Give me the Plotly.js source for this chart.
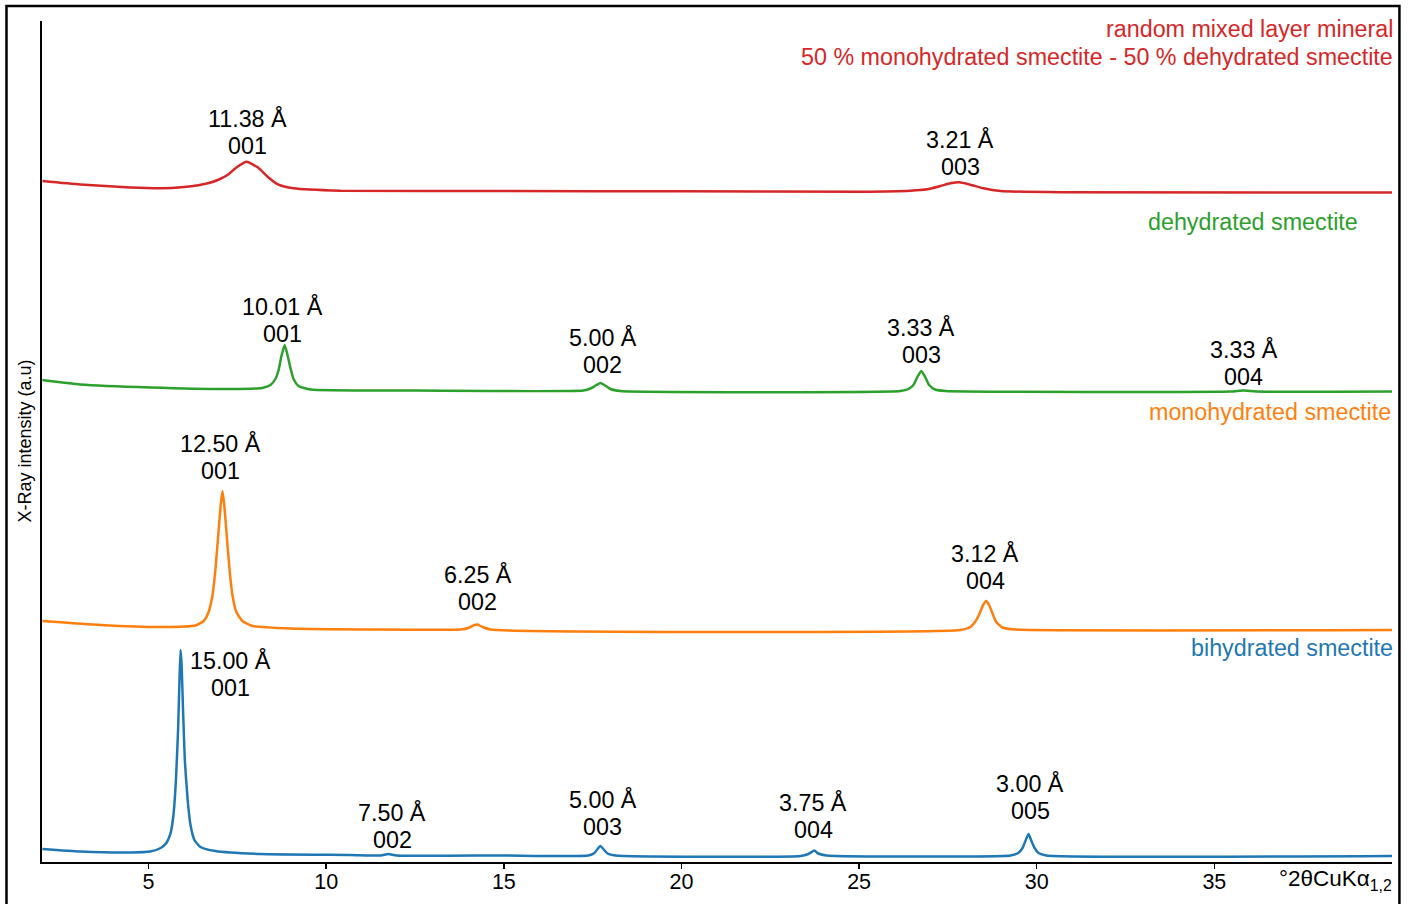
<!DOCTYPE html>
<html>
<head>
<meta charset="utf-8">
<script src="https://cdn.plot.ly/plotly-3.0.1.min.js"></script>
<style>html,body{margin:0;padding:0;background:#fff;}#chart{width:1408px;height:904px;}</style>
</head>
<body>
<div id="chart"></div>
<script>
// ---- data (2θ in degrees, intensity in arbitrary units) ----
const bihydX = [2.01,3.08,4.49,5.05,5.34,5.50,5.62,5.70,5.77,5.83,5.87,5.90,5.93,5.97,6.02,6.10,6.18,6.29,6.46,6.88,8.15,10.68,11.53,11.75,11.98,14.9,17.38,17.55,17.66,17.72,17.80,17.92,18.14,23.35,23.57,23.71,23.74,23.85,24.08,29.26,29.48,29.60,29.68,29.77,29.85,29.94,30.05,30.27,40.0];
const bihydY = [13,10.5,9.5,10.5,14,19,29,47,82,132,182,212,197,152,102,62,37,22,15,11,8,7,6.5,8,6.5,6.5,6.5,9,14,16,13,8.5,6.5,6,8,11,11.5,8.5,6.5,6.5,9,14,21,28,21,14,9,6.5,6];

const monohydX = [2.01,3.65,5.34,6.32,6.55,6.69,6.80,6.88,6.95,7.03,7.08,7.13,7.21,7.28,7.36,7.47,7.64,7.92,9.00,13.78,14.00,14.17,14.26,14.40,14.62,27.85,28.13,28.30,28.41,28.49,28.58,28.66,28.75,28.86,29.03,29.40,40.0];
const monohydY = [241,237,235,236.5,241,250,267,292,322,357,371,357,322,292,267,250,241,236,233.5,232.5,234,237,237.5,235,232.5,232,235,242,250,257,261,257,249,240,234.5,232.5,232];

const dehydX = [2.01,3.08,5.05,7.30,8.20,8.43,8.57,8.66,8.74,8.83,8.91,9.00,9.08,9.22,9.56,12.09,17.24,17.44,17.61,17.72,17.83,18.00,18.28,26.16,26.39,26.53,26.64,26.75,26.86,26.97,27.14,27.43,35.45,35.82,36.18,40.0];
const dehydY = [482,477.5,474.5,473,474,477,483,492,506,517,507,493,483,476,472.5,471.5,471.5,473.5,477,479,477,473,471,471,473,477,485,491,485,477,472.5,471,470.5,471.5,470.5,470.5];

const mixedX = [2.01,3.08,4.49,5.34,6.0,6.40,6.70,6.98,7.22,7.50,7.76,8.07,8.35,8.64,9.08,10.40,15.0,20.0,25.03,26.44,26.92,27.29,27.57,27.82,28.13,28.50,28.98,30.67,40.0];
const mixedY = [681,677.5,674.5,673.7,675,676.8,679,682.5,687,695.3,700.3,694.7,685.3,677.7,673.7,671.3,671,670.7,670.3,671.3,672.7,676,678.7,679.7,677.3,673.7,671,669.7,669.5];

const mixedName   = ['random mixed layer mineral','50 % monohydrated smectite - 50 % dehydrated smectite'];
const dehydName   = 'dehydrated smectite';
const monohydName = 'monohydrated smectite';
const bihydName   = 'bihydrated smectite';

const mixedD  = ['11.38 Å','3.21 Å'],  mixedHkl  = ['001','003'];
const dehydD  = ['10.01 Å','5.00 Å','3.33 Å','3.33 Å'], dehydHkl = ['001','002','003','004'];
const monohydD= ['12.50 Å','6.25 Å','3.12 Å'], monohydHkl = ['001','002','004'];
const bihydD  = ['15.00 Å','7.50 Å','5.00 Å','3.75 Å','3.00 Å'], bihydHkl = ['001','002','003','004','005'];

const xTicks = [5,10,15,20,25,30,35];

// ---- layout / styling ----
const colors = {mixed:'#d62728', dehyd:'#2ca02c', mono:'#ff7f0e', bi:'#1f77b4'};
const FONT = 'Liberation Sans, Arial, Helvetica, sans-serif';
const FS = 23.3;

function line(x,y,c){return {x:x,y:y,type:'scatter',mode:'lines',line:{color:c,width:2.5,shape:'spline',smoothing:0.5},hoverinfo:'skip',showlegend:false};}
const traces = [
  line(mixedX,mixedY,colors.mixed),
  line(dehydX,dehydY,colors.dehyd),
  line(monohydX,monohydY,colors.mono),
  line(bihydX,bihydY,colors.bi)
];

// label anchor: [x, y of first line, y of second line]
const labelPos = {
  mixed:[[7.78,744,716],[27.85,723,695]],
  dehyd:[[8.77,556,528],[17.78,525,497],[26.75,535,507],[35.82,513,485]],
  mono:[[7.02,419,391],[14.26,288,260],[28.55,309,281]],
  bi:[[7.31,202,174],[11.86,50,22],[17.78,63,35],[23.71,60,32],[29.82,79,51]]
};
const annotations = [];
function txt(x,y,t,opts){
  return Object.assign({x:x,y:y,xref:'x',yref:'y',text:t,showarrow:false,xanchor:'center',yanchor:'middle',
    font:{family:FONT,size:FS,color:'#000'}},opts||{});
}
function addLabels(dArr,hArr,pos){
  dArr.forEach((t,i)=>{
    annotations.push(txt(pos[i][0],pos[i][1],t));
    annotations.push(txt(pos[i][0],pos[i][2],hArr[i]));
  });
}
addLabels(mixedD,mixedHkl,labelPos.mixed);
addLabels(dehydD,dehydHkl,labelPos.dehyd);
addLabels(monohydD,monohydHkl,labelPos.mono);
addLabels(bihydD,bihydHkl,labelPos.bi);

annotations.push(txt(40,833,mixedName[0],{xanchor:'right',xshift:3,font:{family:FONT,size:FS,color:colors.mixed}}));
annotations.push(txt(40,805,mixedName[1],{xanchor:'right',xshift:3,font:{family:FONT,size:FS,color:colors.mixed}}));
annotations.push(txt(39.02,640,dehydName,{xanchor:'right',xshift:3,font:{family:FONT,size:FS,color:colors.dehyd}}));
annotations.push(txt(39.93,450,monohydName,{xanchor:'right',xshift:3,font:{family:FONT,size:FS,color:colors.mono}}));
annotations.push(txt(40,214,bihydName,{xanchor:'right',xshift:3,font:{family:FONT,size:FS,color:colors.bi}}));

annotations.push({x:1,y:-0.0214,xref:'paper',yref:'paper',text:'°2θCuKα<sub>1,2</sub>',showarrow:false,xshift:2,
  xanchor:'right',yanchor:'middle',font:{family:FONT,size:22.5,color:'#000'}});
annotations.push({x:-0.0133,y:0.5,xref:'paper',yref:'paper',text:'X-Ray intensity (a.u)',textangle:-90,showarrow:false,
  xanchor:'center',yanchor:'middle',font:{family:FONT,size:18,color:'#000'}});

const layout = {
  width:1408,height:904,
  margin:{l:42,r:16,t:21,b:42,pad:0},
  paper_bgcolor:'#fff',plot_bgcolor:'#fff',
  showlegend:false,hovermode:false,
  xaxis:{range:[2,40],showline:true,linecolor:'#000',linewidth:2,showgrid:false,zeroline:false,
    ticks:'outside',ticklen:5,tickwidth:1.5,tickcolor:'#000',tickvals:xTicks,ticktext:xTicks.map(String),
    ticklabelstandoff:-6,
    tickfont:{family:FONT,size:21.5,color:'#000'}},
  yaxis:{range:[0,841],showline:true,linecolor:'#000',linewidth:2,showgrid:false,zeroline:false,
    showticklabels:false,ticks:''},
  annotations:annotations,
  shapes:[{type:'rect',xref:'paper',yref:'paper',x0:-0.0263,x1:1.0055,y0:-0.06,y1:1.0178,
    line:{color:'#000',width:2.5},fillcolor:'rgba(0,0,0,0)'}]
};
Plotly.newPlot('chart',traces,layout,{displayModeBar:false,staticPlot:true});
</script>
</body>
</html>
